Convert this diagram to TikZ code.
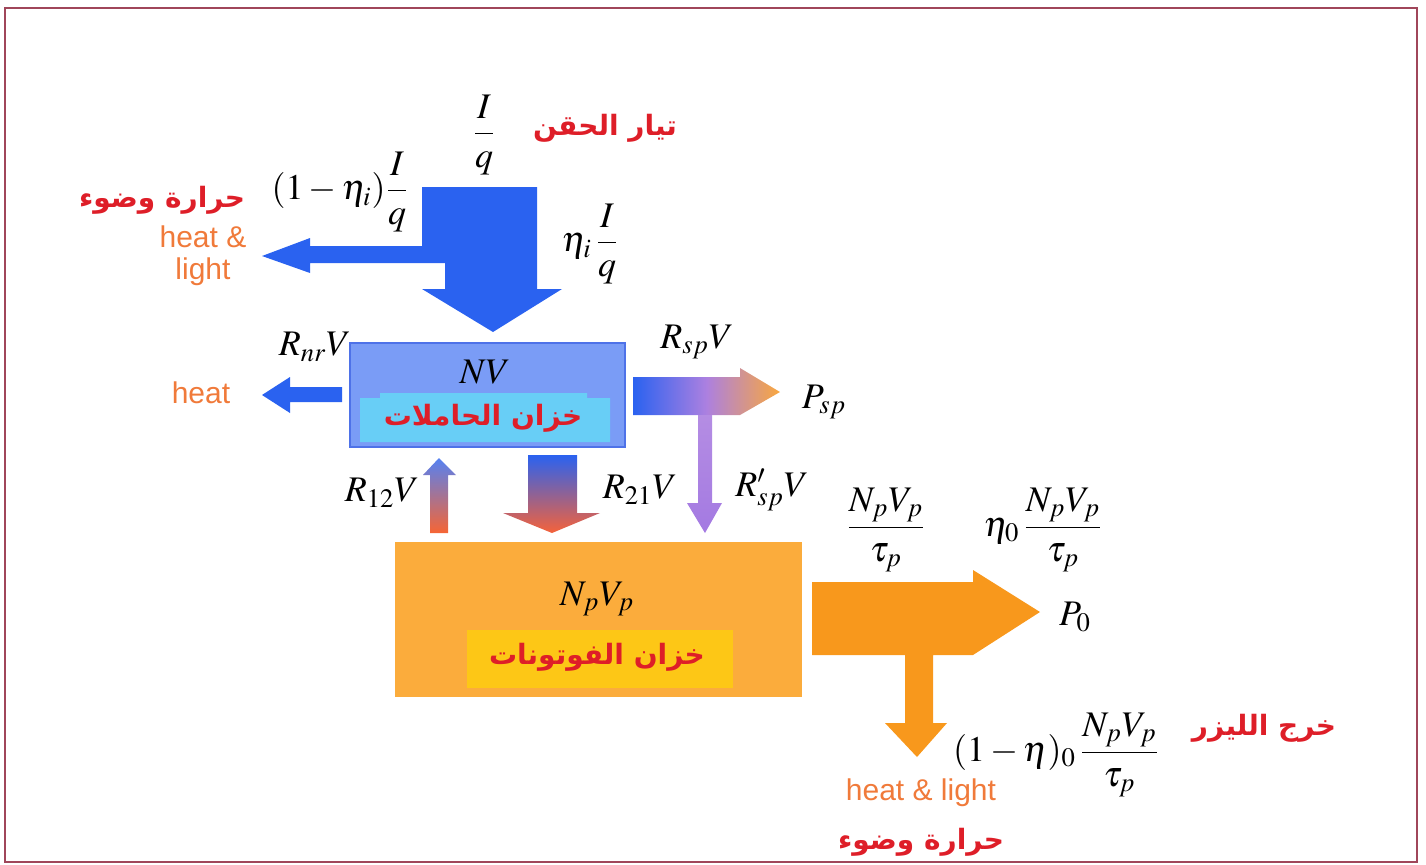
\documentclass[tikz,border=0pt]{standalone}
\usepackage{amsmath}
\usepackage{mathptmx}
\usepackage{fontspec}
\setsansfont{Liberation Sans}
\newfontfamily\arabicfont[Script=Arabic]{DejaVu Sans}
\TeXXeTstate=1
\usepackage{tikz}
\usetikzlibrary{calc}
\definecolor{flowblue}{RGB}{42,98,240}
\definecolor{boxblue}{RGB}{122,156,246}
\definecolor{rimblue}{RGB}{78,114,232}
\definecolor{skyfill}{RGB}{104,206,246}
\definecolor{boxorange}{RGB}{251,172,60}
\definecolor{yellowfill}{RGB}{253,199,22}
\definecolor{flowred}{RGB}{245,98,58}
\definecolor{flowlilac}{RGB}{172,128,224}
\definecolor{floworange}{RGB}{248,152,28}
\definecolor{txtred}{RGB}{222,30,40}
\definecolor{txtorange}{RGB}{240,122,58}
\definecolor{framered}{RGB}{160,70,90}
\tikzset{
  lbl/.style  = {font=\fontsize{18}{21}\selectfont},
  eng/.style  = {text=txtorange, font=\sffamily\fontsize{15}{16}\selectfont, align=center},
  arab/.style = {text=txtred, font=\arabicfont\bfseries\fontsize{14}{16}\selectfont}
}

\begin{document}
\begin{tikzpicture}[x=0.5pt, y=-0.5pt]
  \useasboundingbox (0,0) rectangle (1426,864);
  \draw [framered, line width=1pt] (5,8) rectangle (1417,862);

  % reservoirs
  \node [fill=boxblue, draw=rimblue, line width=0.8pt, minimum width=137.5pt, minimum height=52pt, inner sep=0pt] (carriers) at (487.5,395) {};
  \fill [skyfill] (360,398) rectangle (610,442) (380,393) rectangle (587,398);
  \node [fill=boxorange, minimum width=203.5pt, minimum height=77.5pt, inner sep=0pt] (photons) at (598.5,619.5) {};
  \fill [yellowfill] (467,630) rectangle (733,688);

  % injection, split into heat & light
  \fill [flowblue] (422,187) -- (537,187) -- (537,289) -- (562,289) -- (493,332) -- (422,289) -- (445,289)
    -- (445,263) -- (310,263) -- (310,273) -- (262,256) -- (310,238) -- (310,246) -- (422,246) -- cycle;
  \fill [flowblue] (342,387) -- (290,387) -- (290,377) -- (262,395) -- (290,413) -- (290,402) -- (342,402) -- cycle;

  % spontaneous emission
  \shade [left color=flowblue, right color=floworange!85!white, middle color=flowlilac]
    (633,377) -- (740,377) -- (740,368) -- (780,392) -- (740,415) -- (633,415) -- cycle;
  \shade [top color=flowlilac!90!white, bottom color=flowlilac!95!blue]
    (698,415) -- (712,415) -- (712,503) -- (722,503) -- (705,533) -- (687,503) -- (698,503) -- cycle;

  % stimulated emission / absorption
  \shade [top color=flowblue, bottom color=flowred]
    (528,455) -- (577,455) -- (577,513) -- (600,513) -- (552,533) -- (503,513) -- (528,513) -- cycle;
  \shade [top color=flowblue!80!white, bottom color=flowred!90!orange]
    (430,533) -- (448,533) -- (448,475) -- (456,475) -- (439,458) -- (423,475) -- (430,475) -- cycle;

  % output
  \fill [floworange] (812,582) -- (973,582) -- (973,570) -- (1040,612) -- (973,655) -- (933,655) -- (933,723)
    -- (947,723) -- (917,757) -- (885,723) -- (905,723) -- (905,655) -- (812,655) -- cycle;

  % labels
  \node [lbl] (nv) at (485,372) {$NV$};
  \node [arab] (carrtxt) at (483,418) {\beginR خزان الحاملات\endR};
  \node [lbl] (npvp) at (597,599) {$N_pV_p$};
  \node [arab] (phottxt) at (597,657) {\beginR خزان الفوتونات\endR};

  \node [lbl] (iq) at (484,135) {$\dfrac{I}{q}$};
  \node [arab] (inj) at (605,128) {\beginR تيار الحقن\endR};
  \node [lbl] (lossiq) at (340,192) {$(1-\eta_i)\dfrac{I}{q}$};
  \node [lbl] (etaiq) at (590,244) {$\eta_i\,\dfrac{I}{q}$};
  \node [arab] (hl1) at (162,200) {\beginR حرارة وضوء\endR};
  \node [eng] (hl1en) at (203,256) {heat \&\\light};

  \node [lbl] (rnr) at (315,347) {$R_{nr}V$};
  \node [eng] (heat) at (201,393) {heat};
  \node [lbl] (rsp) at (697,342) {$R_{sp}V$};
  \node [lbl] (psp) at (824,402) {$P_{sp}$};
  \node [lbl] (r12) at (382,493) {$R_{12}V$};
  \node [lbl] (r21) at (640,490) {$R_{21}V$};
  \node [lbl] (rsp2) at (772,490) {$R'_{sp}V$};

  \node [lbl] (npout) at (886,530) {$\dfrac{N_pV_p}{\tau_p}$};
  \node [lbl] (eta0) at (1043,530) {$\eta_0\,\dfrac{N_pV_p}{\tau_p}$};
  \node [lbl] (p0) at (1075,617) {$P_0$};
  \node [lbl] (loss0) at (1056,755) {$(1-\eta)_0\,\dfrac{N_pV_p}{\tau_p}$};
  \node [arab] (laser) at (1264,728) {\beginR خرج الليزر\endR};
  \node [eng] (hl2en) at (921,793) {heat \& light};
  \node [arab] (hl2) at (921,842) {\beginR حرارة وضوء\endR};
\end{tikzpicture}
\end{document}
